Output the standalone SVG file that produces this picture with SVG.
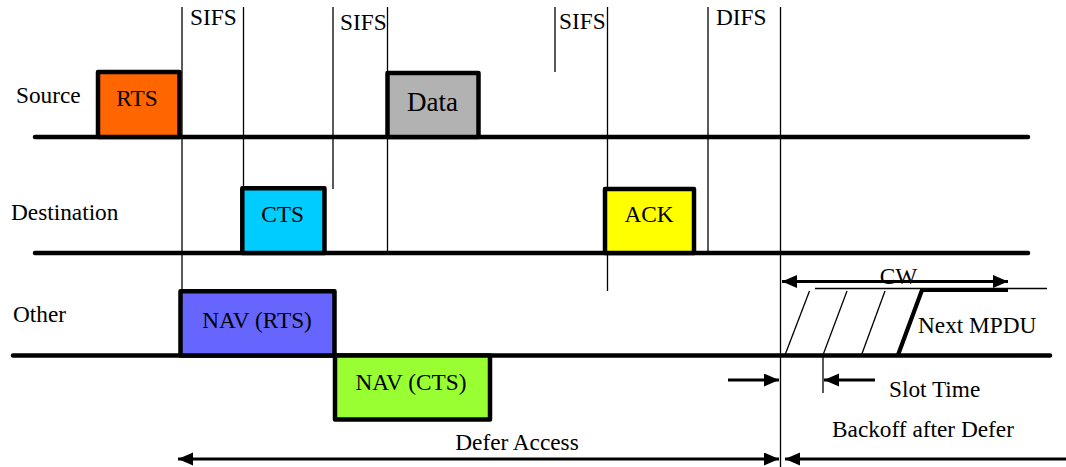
<svg xmlns="http://www.w3.org/2000/svg" width="1066" height="467" viewBox="0 0 1066 467">
<style>
text{font-family:"Liberation Serif","Times New Roman",serif;font-size:23.3px;fill:#000}
.c{text-anchor:middle}
.base{stroke:#000;stroke-width:4.5;stroke-linecap:round;fill:none}
.box{stroke:#000;stroke-width:4.5;stroke-linejoin:round}
.v{stroke:#000;stroke-width:1.3;fill:none}
.arr{stroke:#000;stroke-width:3.2;fill:none}
</style>
<defs>
<marker id="ah" markerUnits="userSpaceOnUse" markerWidth="16" markerHeight="14" refX="15" refY="6.5" orient="auto-start-reverse">
<path d="M0,0 L15,6.5 L0,13 z" fill="#000"/>
</marker>
</defs>
<rect width="1066" height="467" fill="#fff"/>
<g id="timelines">
<line class="base" x1="35" y1="137" x2="1028" y2="137"/>
<line class="base" x1="35" y1="253" x2="1028" y2="253"/>
<line class="base" x1="13" y1="355.5" x2="1050" y2="355.5"/>
</g>
<g id="connectors">
<line class="v" x1="182" y1="7" x2="182" y2="290"/>
<line class="v" x1="243.5" y1="7" x2="243.5" y2="188"/>
<line class="v" x1="333" y1="7" x2="333" y2="189"/>
<line class="v" x1="387.5" y1="7" x2="387.5" y2="253"/>
<line class="v" x1="555" y1="7" x2="555" y2="72"/>
<line class="v" x1="607.5" y1="7" x2="607.5" y2="291"/>
<line class="v" x1="708" y1="7" x2="708" y2="253"/>
<line class="v" x1="780.5" y1="7" x2="780.5" y2="467"/>
<line class="v" x1="823" y1="355" x2="823" y2="393"/>
<line class="arr" x1="782" y1="281.5" x2="1008" y2="281.5" marker-start="url(#ah)" marker-end="url(#ah)"/>
<line class="arr" x1="728" y1="380" x2="779" y2="380" marker-end="url(#ah)"/>
<line class="arr" x1="875" y1="380" x2="824" y2="380" marker-end="url(#ah)"/>
<line class="arr" x1="178" y1="459" x2="779" y2="459" marker-start="url(#ah)" marker-end="url(#ah)"/>
<line class="arr" x1="1066" y1="459" x2="785" y2="459" marker-end="url(#ah)"/>
</g>
<g id="labels">
<text x="16" y="103">Source</text>
<text x="11" y="220">Destination</text>
<text x="13" y="322">Other</text>
<text x="190" y="25">SIFS</text>
<text x="340" y="30">SIFS</text>
<text x="559" y="29">SIFS</text>
<text x="716" y="25">DIFS</text>
</g>
<g id="rts">
<rect class="box" x="98" y="72" width="81.5" height="65" fill="#ff6600"/>
<text class="c" x="137" y="106">RTS</text>
</g>
<g id="data">
<rect class="box" x="387.5" y="73" width="91" height="64" fill="#b2b2b2"/>
<text class="c" x="432.5" y="111" style="font-size:27px">Data</text>
</g>
<g id="cts">
<rect class="box" x="242.3" y="188.3" width="82.2" height="64.7" fill="#00ccff"/>
<text class="c" x="282.5" y="222">CTS</text>
</g>
<g id="ack">
<rect class="box" x="605" y="189" width="89" height="64" fill="#ffff00"/>
<text class="c" x="649" y="222">ACK</text>
</g>
<g id="nav-rts">
<rect class="box" x="180.5" y="291.3" width="154" height="64.2" fill="#6666ff"/>
<text class="c" x="257" y="328">NAV (RTS)</text>
</g>
<g id="nav-cts">
<rect class="box" x="335" y="355.5" width="155" height="64" fill="#99ff33"/>
<text class="c" x="411" y="390">NAV (CTS)</text>
</g>
<g id="backoff">
<line class="v" x1="815" y1="288.5" x2="1047" y2="288.5"/>
<line class="v" x1="785" y1="355" x2="809.5" y2="291"/>
<line class="v" x1="823" y1="355" x2="847" y2="291"/>
<line class="v" x1="861.5" y1="355" x2="885" y2="291"/>
<polyline points="898,355 922,290 1008,290" fill="none" stroke="#000" stroke-width="4.2"/>
<text class="c" x="898.5" y="284">CW</text>
<text x="918" y="333">Next MPDU</text>
<text x="889" y="397">Slot Time</text>
<text x="832" y="437">Backoff after Defer</text>
<text class="c" x="517" y="450">Defer Access</text>
</g>
</svg>
